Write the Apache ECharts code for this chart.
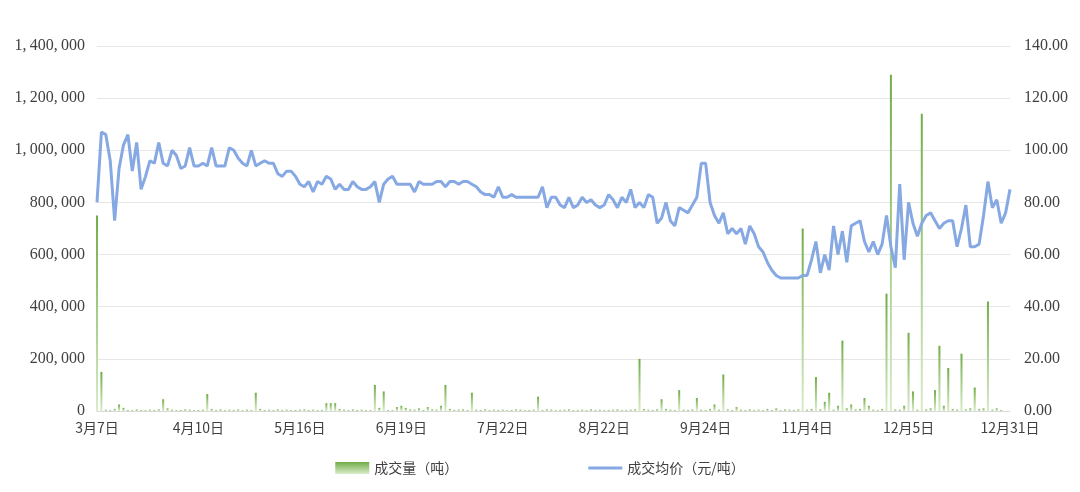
<!DOCTYPE html>
<html>
<head>
<meta charset="utf-8">
<script src="https://cdn.jsdelivr.net/npm/echarts@6/dist/echarts.min.js"></script>
<style>html,body{margin:0;padding:0;background:#fff}#main{width:1080px;height:492px}</style>
</head>
<body>
<div id="main"></div>
<script>
// 刻度标签所在位置（类目下标）
var tick_labels = ['3月7日', '4月10日', '5月16日', '6月19日', '7月22日', '8月22日', '9月24日', '11月4日', '12月5日', '12月31日']
var tick_index = [0, 23, 46, 69, 92, 115, 138, 161, 184, 207]

// 成交均价（元/吨）
var price_list = [
  80, 107, 106, 96, 73, 93, 102, 106, 92, 103, 85, 90, 96, 95, 103, 95, 94, 100, 98, 93, 94, 101, 94,
  94, 95, 94, 101, 94, 94, 94, 101, 100, 97, 95, 94, 100, 94, 95, 96, 95, 95, 91, 90, 92, 92, 90,
  87, 86, 88, 84, 88, 87, 90, 89, 85, 87, 85, 85, 88, 86, 85, 85, 86, 88, 80, 87, 89, 90, 87,
  87, 87, 87, 84, 88, 87, 87, 87, 88, 88, 86, 88, 88, 87, 88, 88, 87, 86, 84, 83, 83, 82, 86,
  82, 82, 83, 82, 82, 82, 82, 82, 82, 86, 78, 82, 82, 79, 78, 82, 78, 79, 82, 80, 81, 79, 78,
  79, 83, 81, 78, 82, 80, 85, 78, 80, 78, 83, 82, 72, 74, 80, 73, 71, 78, 77, 76, 79, 82, 95,
  95, 80, 75, 72, 76, 68, 70, 68, 70, 64, 71, 68, 63, 61, 57, 54, 52, 51, 51, 51, 51, 51, 52,
  52, 58, 65, 53, 60, 54, 71, 60, 69, 57, 71, 72, 73, 65, 61, 65, 60, 64, 75, 63, 55, 87, 58,
  80, 72, 67, 72, 75, 76, 73, 70, 72, 73, 73, 63, 70, 79, 63, 63, 64, 75, 88, 78, 81, 72, 76, 85
]

// 成交量（吨）
var volume_list = [
  750000, 150000, 5000, 3000, 8000, 25000, 12000, 4000, 3000, 6000, 4000, 3000, 5000, 4000, 6000, 45000, 10000, 5000, 3000, 4000, 6000, 5000, 3000,
  4000, 5000, 65000, 8000, 4000, 6000, 3000, 5000, 4000, 6000, 3000, 5000, 4000, 70000, 8000, 4000, 5000, 3000, 6000, 4000, 5000, 3000, 4000,
  5000, 6000, 4000, 5000, 3000, 4000, 30000, 30000, 30000, 8000, 5000, 3000, 6000, 4000, 5000, 3000, 4000, 100000, 12000, 75000, 4000, 3000, 15000,
  20000, 12000, 6000, 5000, 10000, 4000, 15000, 6000, 5000, 20000, 100000, 8000, 4000, 5000, 6000, 3000, 70000, 5000, 4000, 6000, 3000, 5000, 4000,
  5000, 3000, 4000, 6000, 5000, 3000, 4000, 5000, 55000, 4000, 6000, 5000, 3000, 4000, 5000, 6000, 3000, 4000, 5000, 3000, 6000, 4000, 5000,
  3000, 4000, 5000, 6000, 3000, 4000, 5000, 6000, 200000, 8000, 5000, 4000, 6000, 45000, 8000, 5000, 4000, 80000, 5000, 4000, 6000, 50000, 5000,
  4000, 8000, 25000, 5000, 140000, 6000, 4000, 15000, 5000, 3000, 6000, 4000, 5000, 3000, 8000, 4000, 10000, 3000, 6000, 5000, 4000, 6000, 700000,
  5000, 8000, 130000, 6000, 35000, 70000, 5000, 20000, 270000, 10000, 25000, 6000, 8000, 50000, 20000, 5000, 3000, 8000, 450000, 1290000, 6000, 5000, 20000,
  300000, 75000, 5000, 1140000, 6000, 10000, 80000, 250000, 20000, 165000, 8000, 5000, 220000, 6000, 10000, 90000, 8000, 10000, 420000, 5000, 10000, 4000
]

var categories = []
for (var i = 0; i < price_list.length; i++) {
  var k = tick_index.indexOf(i)
  categories.push(k >= 0 ? tick_labels[k] : 'd' + i)
}

var serif = 'Liberation Serif'
var myChart = echarts.init(document.getElementById('main'))
myChart.setOption({
  animation: false,
  grid: { left: 97, right: 70, top: 46, bottom: 81 },
  legend: {
    bottom: 12,
    itemGap: 130,
    itemWidth: 34,
    itemHeight: 12,
    textStyle: { fontFamily: 'Noto Sans CJK SC', fontSize: 14, color: '#404040' },
    data: [
      { name: '成交量（吨）', icon: 'rect' },
      { name: '成交均价（元/吨）', icon: 'path://M0,5L34,5L34,8L0,8Z' }
    ]
  },
  xAxis: {
    type: 'category',
    data: categories,
    boundaryGap: false,
    axisLine: { lineStyle: { color: '#d9d9d9' } },
    axisTick: { show: false },
    axisLabel: {
      interval: function (idx) { return tick_index.indexOf(idx) >= 0 },
      color: '#404040', fontSize: 14, fontFamily: 'Noto Sans CJK SC', margin: 10
    }
  },
  yAxis: [{
    type: 'value', min: 0, max: 1400000, interval: 200000,
    axisLine: { show: false }, axisTick: { show: false },
    splitLine: { lineStyle: { color: '#e6e6e6' } },
    axisLabel: {
      color: '#404040', fontSize: 16, fontFamily: serif, margin: 12,
      formatter: function (v) { return v.toLocaleString('en-US').replace(/,/g, ',\u2009') }
    }
  }, {
    type: 'value', min: 0, max: 140, interval: 20,
    axisLine: { show: false }, axisTick: { show: false },
    splitLine: { show: false },
    axisLabel: {
      color: '#404040', fontSize: 16, fontFamily: serif, margin: 14,
      formatter: function (v) { return v.toFixed(2) }
    }
  }],
  series: [{
    name: '成交量（吨）',
    type: 'bar',
    data: volume_list,
    barWidth: 2,
    itemStyle: {
      color: new echarts.graphic.LinearGradient(0, 0, 0, 1, [
        { offset: 0, color: '#70ad47' },
        { offset: 1, color: '#d9ecc9' }
      ])
    }
  }, {
    name: '成交均价（元/吨）',
    type: 'line',
    yAxisIndex: 1,
    data: price_list,
    symbol: 'none',
    lineStyle: { color: '#86a8e3', width: 3 },
    itemStyle: { color: '#86a8e3' }
  }]
})
</script>
</body>
</html>
